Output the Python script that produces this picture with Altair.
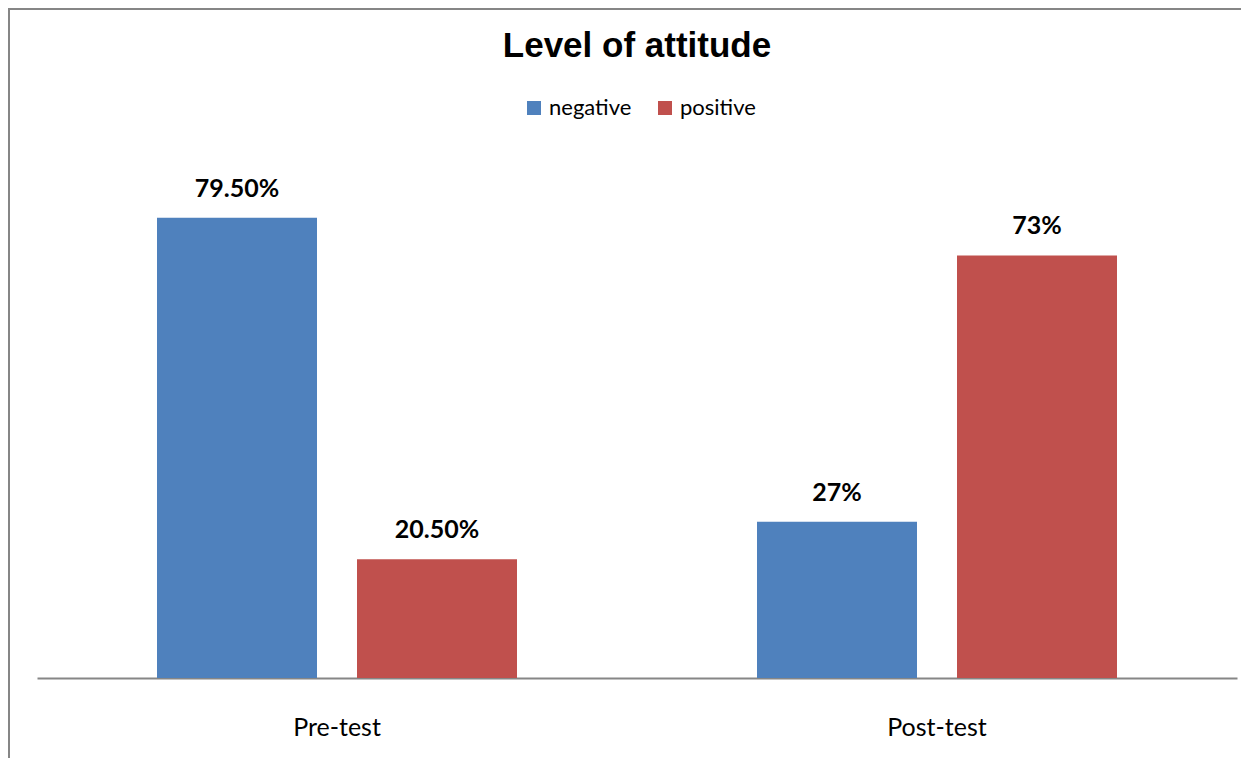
import altair as alt
import pandas as pd

tests = ["Pre-test", "Pre-test", "Post-test", "Post-test"]
levels = ["negative", "positive", "negative", "positive"]
values = [79.5, 20.5, 27.0, 73.0]
labels = ["79.50%", "20.50%", "27%", "73%"]

df = pd.DataFrame({"test": tests, "level": levels, "value": values, "label": labels})

W, H = 1200, 521
xenc = alt.X("test:N", sort=["Pre-test", "Post-test"], title=None,
             scale=alt.Scale(paddingInner=0, paddingOuter=0),
             axis=alt.Axis(labelAngle=0, labelFont="Lato", labelFontSize=25, labelColor="#000000",
                           labelBaseline="alphabetic", labelPadding=57, ticks=False, tickSize=0,
                           domainColor="#868686", domainWidth=2, grid=False))
xoff = alt.XOffset("level:N", sort=["negative", "positive"],
                   scale=alt.Scale(paddingInner=0.2, paddingOuter=0.6))
yenc = alt.Y("value:Q", scale=alt.Scale(domain=[0, 90]), axis=None)

bars = alt.Chart(df).mark_bar().encode(
    x=xenc, xOffset=xoff, y=yenc,
    color=alt.Color("level:N", sort=["negative", "positive"],
                    scale=alt.Scale(domain=["negative", "positive"], range=["#4F81BD", "#C0504D"]),
                    legend=alt.Legend(title=None, orient="none", direction="horizontal",
                                      legendX=486, legendY=-60, symbolType="square", symbolSize=196,
                                      symbolStrokeWidth=0, labelFont="Lato", labelFontSize=22,
                                      labelColor="#000000", labelOffset=4, columnPadding=22,
                                      padding=0)),
)

text = alt.Chart(df).mark_text(font="Lato", fontSize=25, fontWeight="bold", color="#000000",
                               baseline="alphabetic", dy=-21).encode(
    x=xenc, xOffset=xoff, y=yenc, text="label:N")

frame_df = pd.DataFrame({"a": [0]})
left_edge = alt.Chart(frame_df).mark_rule(stroke="#868686", strokeWidth=2).encode(
    x=alt.value(-28), y=alt.value(-148), y2=alt.value(H + 300))
top_edge = alt.Chart(frame_df).mark_rule(stroke="#868686", strokeWidth=2).encode(
    x=alt.value(-29), x2=alt.value(W + 400), y=alt.value(-148))

chart = alt.layer(left_edge, top_edge, bars, text).properties(
    width=W, height=H,
    title=alt.TitleParams("Level of attitude", font="Liberation Sans", fontSize=35, fontWeight="bold",
                          color="#000000", anchor="middle", frame="group", baseline="alphabetic",
                          offset=-84),
    autosize=alt.AutoSizeParams(type="none"),
    padding={"left": 29, "top": 149, "right": 4, "bottom": 80},
).configure(background="#ffffff", view=alt.ViewConfig(stroke=None))

chart.save("out.html", embed_options={"renderer": "svg", "actions": False})
